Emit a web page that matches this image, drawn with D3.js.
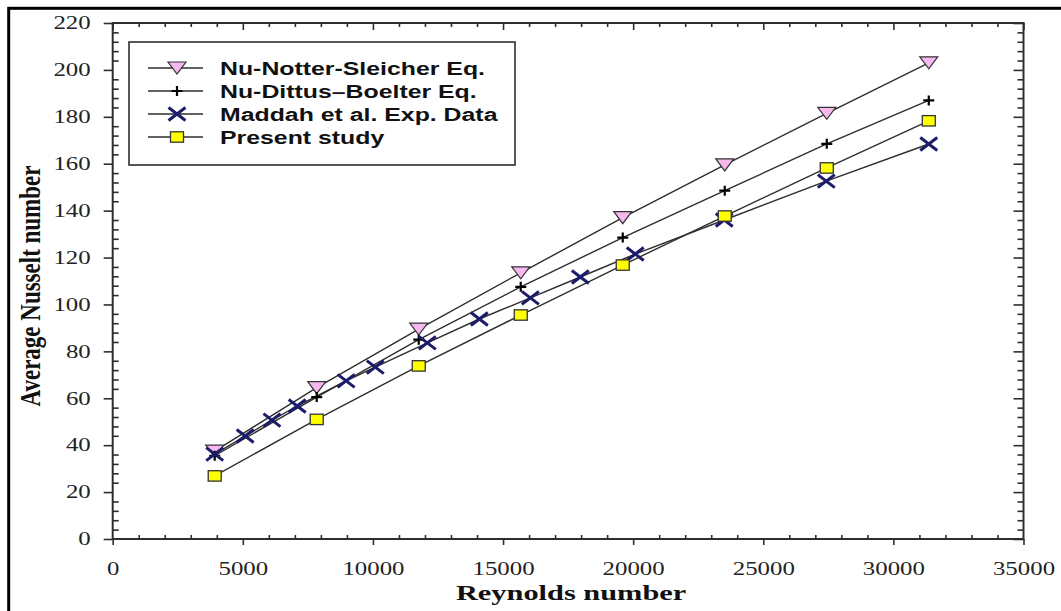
<!DOCTYPE html>
<html>
<head>
<meta charset="utf-8">
<script src="https://cdn.jsdelivr.net/npm/d3@7"></script>
<style>
  body { margin: 0; background: #fff; }
  svg { display: block; }
</style>
</head>
<body>
<svg width="1061" height="611"></svg>
<script>
// data
var reynolds = [3920, 7840, 11760, 15680, 19600, 23520, 27440, 31360];
var notterSleicher = [37.5, 64.5, 89.5, 113.5, 137, 159.5, 181.5, 203];
var dittusBoelter = [35.5, 60.5, 85, 107.5, 128.5, 148.5, 168.5, 187];
var presentStudy = [26.9, 51, 73.8, 95.5, 116.8, 137.7, 158.2, 178.3];
var maddahRe = [3920, 5090, 6120, 7090, 8970, 10090, 12090, 14090, 16050, 17970, 20080, 23500, 27420, 31360];
var maddahNu = [36.2, 43.9, 50.7, 56.7, 67.4, 73.3, 83.6, 93.8, 102.8, 111.7, 121.5, 136, 152.6, 168.4];
var seriesNames = ["Nu-Notter-Sleicher Eq.", "Nu-Dittus\u2013Boelter Eq.", "Maddah et al. Exp. Data", "Present study"];
var xTicks = [0, 5000, 10000, 15000, 20000, 25000, 30000, 35000];
var yTicks = [0, 20, 40, 60, 80, 100, 120, 140, 160, 180, 200, 220];

var svg = d3.select("svg"),
    plotLeft = 112.7, plotRight = 1023.5, plotTop = 23, plotBottom = 539,
    stretch = 1.38,
    lineColor = "#2e2e2e";

var x = d3.scaleLinear().domain([0, 35000]).range([plotLeft, plotRight]);
var y = d3.scaleLinear().domain([0, 220]).range([plotBottom, plotTop]);

// outer frame of the figure
svg.append("rect")
    .attr("x", 8.7).attr("y", 8.3)
    .attr("width", 1070).attr("height", 620)
    .attr("fill", "none").attr("stroke", "#000").attr("stroke-width", 3);

// widen a text the way the figure was stretched
function widen(sel) {
    sel.each(function () {
        var w = this.getComputedTextLength();
        d3.select(this).attr("textLength", w * stretch).attr("lengthAdjust", "spacingAndGlyphs");
    });
}

var minorX = d3.range(0, 35001, 1000).filter(function (d) { return d % 5000 !== 0; });
var minorY = d3.range(0, 221, 4).filter(function (d) { return d % 20 !== 0; });

function styleAxis(g) {
    g.select(".domain").remove();
    g.selectAll("line").attr("stroke", lineColor).attr("stroke-width", 1.6);
}

// bottom: majors outward with labels, minors inward
var bx = svg.append("g").attr("transform", "translate(0," + plotBottom + ")")
    .call(d3.axisBottom(x).tickValues(xTicks).tickSize(6).tickPadding(17).tickFormat(d3.format("d")));
styleAxis(bx);
bx.selectAll("text").attr("font-family", "'Liberation Serif', serif").attr("font-size", 18).attr("fill", "#222");
svg.append("g").attr("transform", "translate(0," + plotBottom + ")")
    .call(d3.axisBottom(x).tickValues(minorX).tickSize(-4).tickFormat("")).call(styleAxis);

// top: all inward
svg.append("g").attr("transform", "translate(0," + plotTop + ")")
    .call(d3.axisTop(x).tickValues(xTicks).tickSize(-7).tickFormat("")).call(styleAxis);
svg.append("g").attr("transform", "translate(0," + plotTop + ")")
    .call(d3.axisTop(x).tickValues(minorX).tickSize(-4).tickFormat("")).call(styleAxis);

// left: majors outward with labels, minors inward
var ly = svg.append("g").attr("transform", "translate(" + plotLeft + ",0)")
    .call(d3.axisLeft(y).tickValues(yTicks).tickSize(9).tickPadding(13));
styleAxis(ly);
ly.selectAll("text").attr("font-family", "'Liberation Serif', serif").attr("font-size", 18).attr("fill", "#222");
svg.append("g").attr("transform", "translate(" + plotLeft + ",0)")
    .call(d3.axisLeft(y).tickValues(minorY).tickSize(-6).tickFormat("")).call(styleAxis);

// right: all inward
svg.append("g").attr("transform", "translate(" + plotRight + ",0)")
    .call(d3.axisRight(y).tickValues(yTicks).tickSize(-10).tickFormat("")).call(styleAxis);
svg.append("g").attr("transform", "translate(" + plotRight + ",0)")
    .call(d3.axisRight(y).tickValues(minorY).tickSize(-6).tickFormat("")).call(styleAxis);

widen(bx.selectAll("text"));
widen(ly.selectAll("text"));

// plot frame
svg.append("rect")
    .attr("x", plotLeft).attr("y", plotTop)
    .attr("width", plotRight - plotLeft).attr("height", plotBottom - plotTop)
    .attr("fill", "none").attr("stroke", lineColor).attr("stroke-width", 2);

// markers
function drawMarker(g, kind) {
    if (kind === 0) {
        g.append("path").attr("d", "M-9,-6L9,-6L0,6Z")
            .attr("fill", "#f6b8ee").attr("stroke", "#333").attr("stroke-width", 1.2);
    } else if (kind === 1) {
        g.append("path").attr("d", "M-5.5,0H5.5M0,-5V5")
            .attr("stroke", "#000").attr("stroke-width", 2.2);
    } else if (kind === 2) {
        g.append("path").attr("d", "M-8.5,-6.5L8.5,6.5M-8.5,6.5L8.5,-6.5")
            .attr("stroke", "#1c1c6b").attr("stroke-width", 3);
    } else {
        g.append("rect").attr("x", -6.5).attr("y", -5.2).attr("width", 13).attr("height", 10.4)
            .attr("fill", "#ffff00").attr("stroke", "#333").attr("stroke-width", 1.3);
    }
}

var series = [
    { re: reynolds, nu: notterSleicher },
    { re: reynolds, nu: dittusBoelter },
    { re: maddahRe, nu: maddahNu },
    { re: reynolds, nu: presentStudy }
];

var line = d3.line().x(function (d) { return x(d[0]); }).y(function (d) { return y(d[1]); });

series.forEach(function (s) {
    var pts = d3.zip(s.re, s.nu);
    svg.append("path").datum(pts).attr("d", line)
        .attr("fill", "none").attr("stroke", lineColor).attr("stroke-width", 1.4);
});
series.forEach(function (s, i) {
    svg.append("g").selectAll("g").data(d3.zip(s.re, s.nu)).enter().append("g")
        .attr("transform", function (d) { return "translate(" + x(d[0]) + "," + y(d[1]) + ")"; })
        .each(function () { drawMarker(d3.select(this), i); });
});

// legend
var legend = svg.append("g");
legend.append("rect").attr("x", 129).attr("y", 42).attr("width", 386).attr("height", 123)
    .attr("fill", "#fff").attr("stroke", lineColor).attr("stroke-width", 1.6);
var rowY = [68, 91, 114, 137];
seriesNames.forEach(function (name, i) {
    var row = legend.append("g").attr("transform", "translate(0," + rowY[i] + ")");
    row.append("line").attr("x1", 148).attr("x2", 203).attr("y1", 0).attr("y2", 0)
        .attr("stroke", lineColor).attr("stroke-width", 1.4);
    drawMarker(row.append("g").attr("transform", "translate(177,0)"), i);
    var t = row.append("text").attr("x", 220).attr("y", 7)
        .attr("font-family", "'Liberation Sans', Arial, sans-serif").attr("font-weight", "bold")
        .attr("font-size", 18).attr("fill", "#111").text(name);
    widen(t);
});

// axis titles
var xt = svg.append("text").attr("x", (plotLeft + plotRight) / 2 + 3).attr("y", 600)
    .attr("text-anchor", "middle").attr("font-family", "'Liberation Serif', serif")
    .attr("font-weight", "bold").attr("font-size", 22).attr("fill", "#111").text("Reynolds number");
widen(xt);

svg.append("g").attr("transform", "translate(40,286) scale(1.3,1) rotate(-90)")
    .append("text").attr("text-anchor", "middle").attr("font-family", "'Liberation Serif', serif")
    .attr("font-weight", "bold").attr("font-size", 23).attr("fill", "#111").text("Average Nusselt number");
</script>
</body>
</html>
